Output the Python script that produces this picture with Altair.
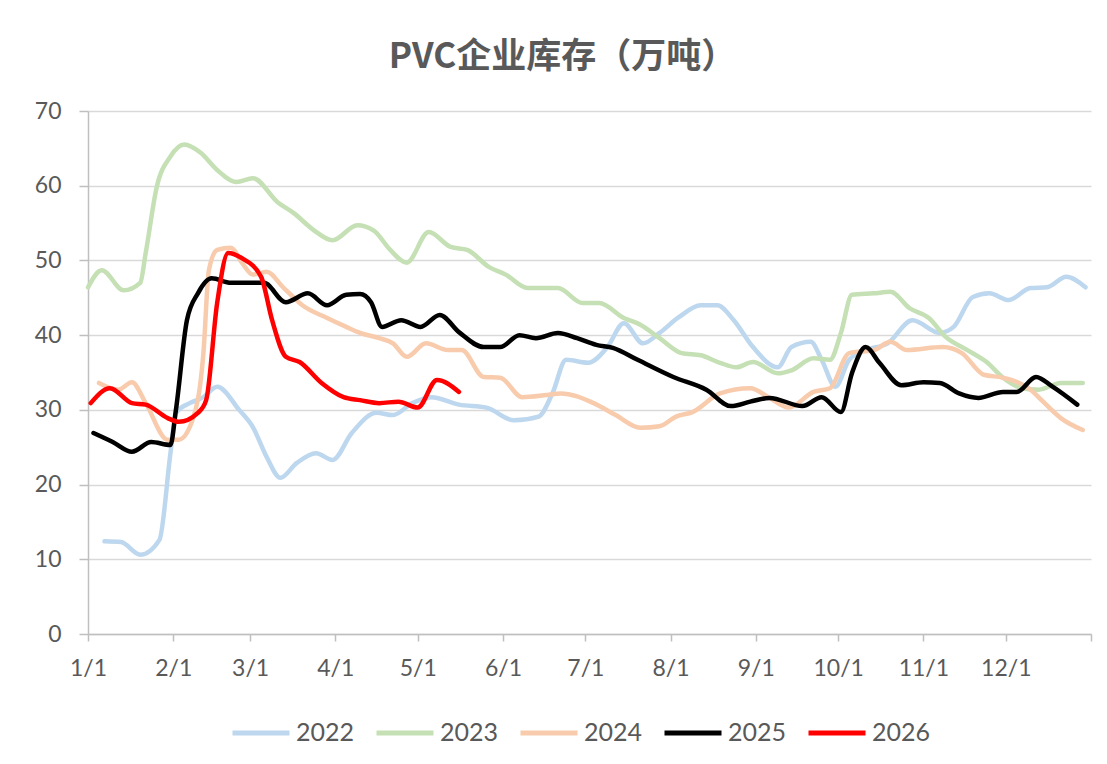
import altair as alt
import pandas as pd

years = ["2022", "2023", "2024", "2025", "2026"]
colors = ["#BDD7EE", "#C5E0B4", "#F8CBAD", "#000000", "#FF0000"]

days_2022 = [6, 12, 19, 26, 30, 32, 37, 42, 47, 55, 60, 65, 70, 76, 83, 89, 96, 105, 111, 118, 125, 135, 145, 155,
             164, 169, 174, 182, 189, 195, 202, 208, 215, 223, 229, 235, 242, 251, 256, 263, 267, 272, 277, 283, 291,
             300, 310, 315, 322, 328, 335, 343, 349, 356, 363]
vals_2022 = [12.4, 12.3, 10.6, 12.6, 24.2, 29.6, 30.9, 31.7, 33.1, 30.0, 27.7, 23.7, 20.9, 22.9, 24.2, 23.3, 26.9,
             29.6, 29.3, 30.9, 31.7, 30.7, 30.3, 28.6, 29.1, 32.2, 36.7, 36.3, 38.4, 41.6, 38.9, 40.3, 42.4, 44.0,
             44.0, 42.0, 38.4, 35.7, 38.4, 39.1, 36.7, 33.1, 36.7, 38.0, 38.9, 42.0, 40.3, 41.1, 45.1, 45.6, 44.7,
             46.3, 46.4, 47.8, 46.4]

days_2023 = [0, 5, 13, 19, 21, 25, 30, 35, 41, 47, 54, 60, 69, 75, 82, 89, 98, 104, 110, 116, 124, 132, 138, 146,
             152, 160, 171, 180, 186, 195, 201, 208, 216, 223, 230, 236, 242, 251, 256, 264, 270, 274, 278, 286, 292,
             299, 306, 312, 320, 327, 333, 340, 346, 354, 362]
vals_2023 = [46.4, 48.7, 46.0, 47.0, 51.0, 59.8, 63.9, 65.5, 64.4, 62.1, 60.5, 61.0, 57.8, 56.3, 54.1, 52.7, 54.7,
             54.0, 51.4, 49.7, 53.8, 51.8, 51.4, 49.1, 48.1, 46.3, 46.3, 44.3, 44.3, 42.3, 41.4, 39.6, 37.6, 37.3,
             36.3, 35.7, 36.4, 34.9, 35.3, 36.9, 36.7, 40.3, 45.4, 45.6, 45.8, 43.6, 42.3, 39.8, 38.0, 36.4, 34.3,
             32.9, 32.7, 33.6, 33.6]

days_2024 = [4, 11, 16, 21, 29, 33, 38, 42, 44, 47, 52, 56, 60, 65, 71, 78, 87, 94, 99, 106, 111, 116, 123, 131,
             136, 144, 150, 158, 167, 172, 184, 192, 201, 208, 214, 220, 230, 241, 248, 255, 264, 270, 277, 286, 292,
             298, 311, 318, 326, 333, 343, 347, 354, 362]
vals_2024 = [33.6, 32.7, 33.7, 30.9, 26.0, 26.0, 28.6, 37.6, 48.7, 51.4, 51.7, 49.7, 48.1, 48.5, 46.4, 44.0, 42.3,
             41.1, 40.3, 39.6, 38.9, 37.1, 38.9, 38.0, 38.0, 34.4, 34.3, 31.7, 32.0, 32.2, 30.9, 29.3, 27.6, 27.8,
             29.1, 29.7, 32.2, 32.9, 31.6, 30.3, 32.4, 32.9, 37.6, 38.0, 39.1, 38.0, 38.4, 37.6, 34.7, 34.3, 32.7,
             31.3, 28.9, 27.3]

days_2025 = [2, 9, 16, 23, 30, 32, 36, 40, 45, 52, 58, 64, 72, 80, 87, 94, 99, 103, 107, 114, 121, 128, 135, 144,
             150, 157, 163, 171, 178, 185, 191, 200, 213, 225, 234, 241, 248, 260, 267, 274, 278, 283, 288, 296, 304,
             310, 317, 324, 333, 338, 345, 351, 360]
vals_2025 = [26.9, 25.7, 24.4, 25.7, 25.3, 30.0, 42.0, 45.6, 47.6, 47.0, 47.0, 47.0, 44.4, 45.6, 44.0, 45.4, 45.5,
             44.4, 41.1, 42.0, 41.1, 42.7, 40.4, 38.4, 38.4, 40.0, 39.6, 40.3, 39.6, 38.7, 38.3, 36.7, 34.4, 32.7,
             30.5, 31.1, 31.6, 30.5, 31.7, 29.7, 34.9, 38.4, 36.3, 33.3, 33.7, 33.6, 32.2, 31.6, 32.4, 32.4, 34.4,
             33.1, 30.7]

days_2026 = [1, 8, 16, 21, 29, 33, 40, 43, 47, 51, 56, 63, 67, 72, 77, 85, 93, 99, 106, 113, 120, 127, 135]
vals_2026 = [30.9, 32.9, 30.9, 30.7, 28.9, 28.4, 29.6, 31.3, 44.3, 51.0, 50.3, 47.8, 42.0, 37.1, 36.4, 33.6, 31.7,
             31.3, 30.9, 31.1, 30.3, 34.0, 32.4]

tick_days = [0, 31, 59, 90, 120, 151, 181, 212, 243, 273, 304, 334, 365]
tick_labels = ["1/1", "2/1", "3/1", "4/1", "5/1", "6/1", "7/1", "8/1", "9/1", "10/1", "11/1", "12/1", ""]
y_ticks = [0, 10, 20, 30, 40, 50, 60, 70]

all_days = [days_2022, days_2023, days_2024, days_2025, days_2026]
all_vals = [vals_2022, vals_2023, vals_2024, vals_2025, vals_2026]

rows = []
for yr, ds, vs in zip(years, all_days, all_vals):
    for d, v in zip(ds, vs):
        rows.append({"year": yr, "day": d, "value": v})
df = pd.DataFrame(rows)

label_expr = " : ".join(f"datum.value == {d} ? '{l}'" for d, l in zip(tick_days, tick_labels)) + " : ''"

axis_color = "#BFBFBF"
text_color = "#595959"
font = "Lato"

chart = alt.Chart(df).mark_line(
    interpolate="monotone", strokeWidth=4.5, strokeCap="round", strokeJoin="round"
).encode(
    x=alt.X("day:Q", title=None,
            scale=alt.Scale(domain=[0, 365], nice=False, zero=False),
            axis=alt.Axis(values=tick_days, labelExpr=label_expr, grid=False,
                          tickSize=7, tickWidth=1.5, tickColor=axis_color,
                          domainColor=axis_color, domainWidth=1.5,
                          labelPadding=16, labelFontSize=23, labelFont=font,
                          labelColor=text_color, labelFlush=False, labelOverlap=False)),
    y=alt.Y("value:Q", title=None,
            scale=alt.Scale(domain=[0, 70], nice=False),
            axis=alt.Axis(values=y_ticks, grid=True, gridColor="#D9D9D9", gridWidth=1.5,
                          tickSize=9, tickWidth=1.5, tickColor=axis_color,
                          domainColor=axis_color, domainWidth=1.5,
                          labelPadding=18, labelFontSize=23, labelFont=font,
                          labelColor=text_color)),
    color=alt.Color("year:N", title=None,
                    scale=alt.Scale(domain=years, range=colors),
                    legend=alt.Legend(orient="none", legendX=142, legendY=591,
                                      direction="horizontal", symbolType="stroke",
                                      symbolSize=3249, symbolStrokeWidth=5,
                                      labelFontSize=25, labelFont=font, labelColor=text_color,
                                      labelOffset=4, columnPadding=11)),
).properties(
    width=1003, height=523,
    title=alt.TitleParams("PVC企业库存（万吨）", font="Noto Sans CJK SC", fontSize=35,
                          fontWeight="bold", color=text_color, anchor="middle",
                          frame="group", dx=-27, offset=25),
    autosize=alt.AutoSizeParams(type="none"),
    padding={"left": 80, "top": 103, "right": 8, "bottom": 120},
).configure_view(stroke=None)

chart.save("out.html", embed_options={"renderer": "svg", "actions": False})
